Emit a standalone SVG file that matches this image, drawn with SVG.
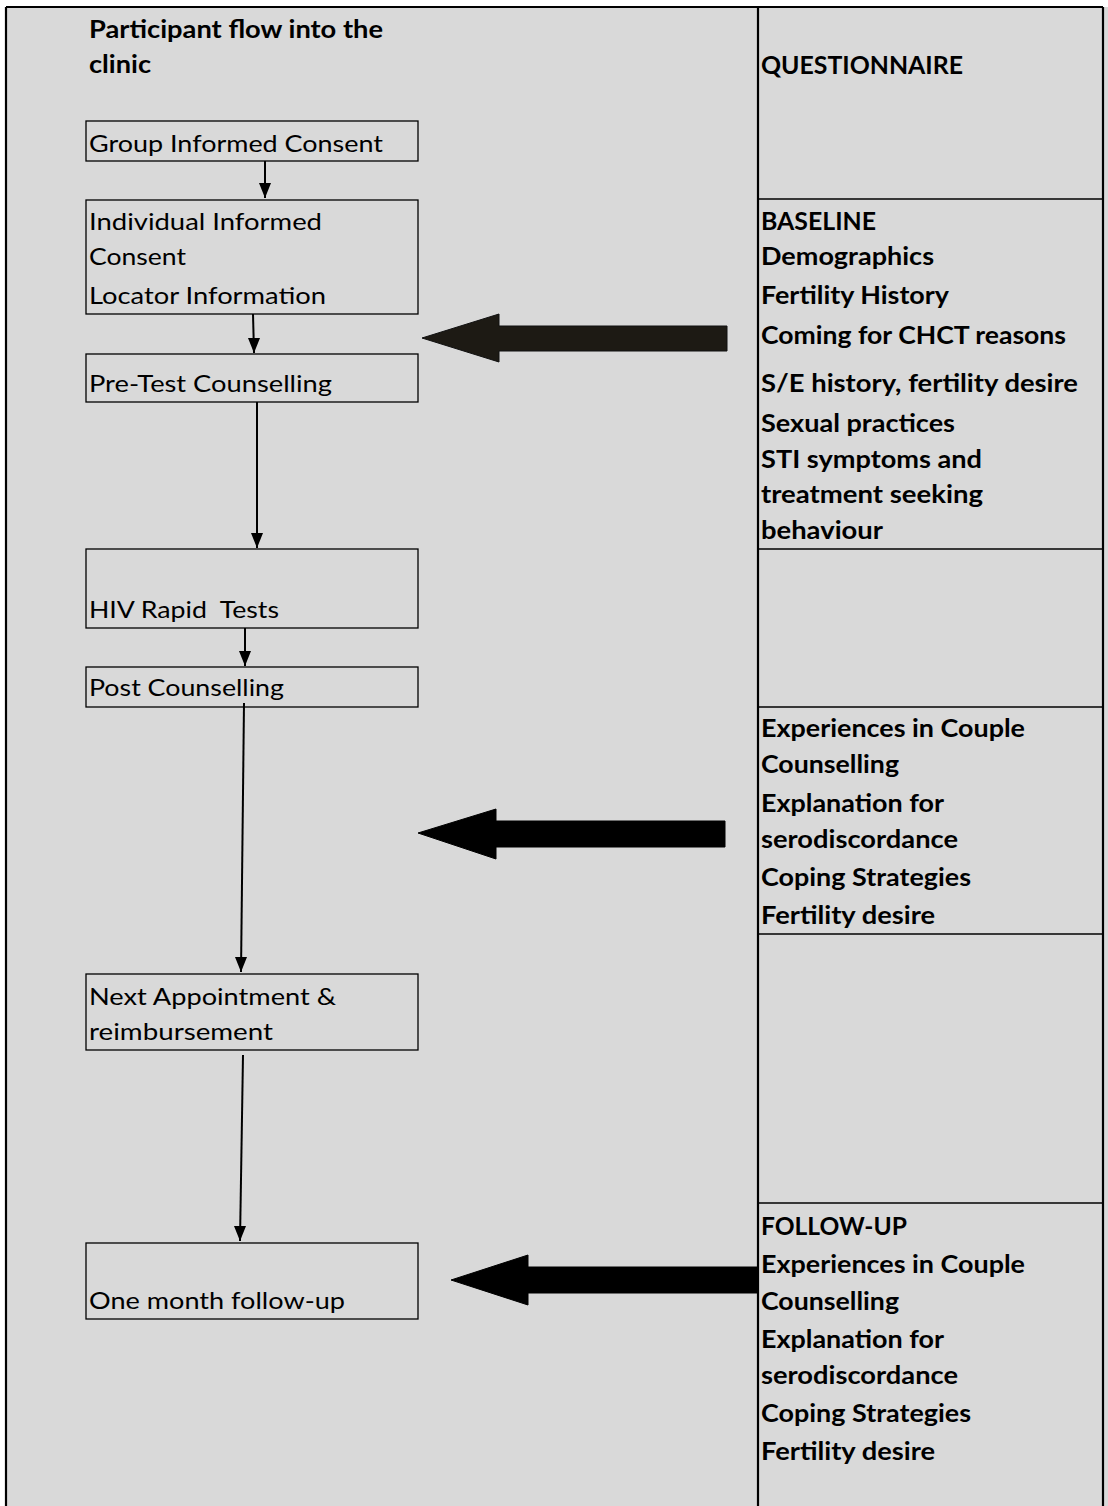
<svg xmlns="http://www.w3.org/2000/svg" width="1108" height="1506" viewBox="0 0 1108 1506">
  <style>
    .frame { fill: none; stroke: #000; stroke-width: 2.2; }
    .rule { stroke: #000; stroke-width: 1.6; }
    .box { fill: none; stroke: #000; stroke-width: 1.3; }
    .step { font-family: Lato, "Liberation Sans", sans-serif; font-size: 24px; fill: #000; }
    .head { font-family: Lato, "Liberation Sans", sans-serif; font-size: 24px; font-weight: bold; fill: #000; }
    .flow { stroke: #000; stroke-width: 2; fill: none; marker-end: url(#down); }
    .big { fill: #000; stroke: #000; stroke-width: 1; }
  </style>
  <defs>
    <marker id="down" viewBox="0 0 12 15" refX="6" refY="15" markerWidth="12" markerHeight="15" markerUnits="userSpaceOnUse" orient="0">
      <path d="M0,0 L12,0 L6,15 Z" fill="#000"/>
    </marker>
  </defs>

  <!-- page background and table frame -->
  <rect x="0" y="0" width="1108" height="1506" fill="#ffffff"/>
  <rect x="6" y="7" width="1102" height="1499" fill="#d9d9d9"/>
  <g id="table">
    <line class="frame" x1="6" y1="7" x2="1103" y2="7"/>
    <line class="frame" x1="6" y1="7" x2="6" y2="1506"/>
    <line class="frame" x1="1103" y1="7" x2="1103" y2="1506"/>
    <line class="frame" x1="758" y1="7" x2="758" y2="1506"/>
    <line class="rule" x1="758" y1="199" x2="1103" y2="199"/>
    <line class="rule" x1="758" y1="549" x2="1103" y2="549"/>
    <line class="rule" x1="758" y1="707" x2="1103" y2="707"/>
    <line class="rule" x1="758" y1="934" x2="1103" y2="934"/>
    <line class="rule" x1="758" y1="1203" x2="1103" y2="1203"/>
  </g>

  <!-- left column: participant flow -->
  <g id="flow-title">
    <text class="head" x="89" y="38" textLength="294" lengthAdjust="spacingAndGlyphs">Participant flow into the</text>
    <text class="head" x="89" y="73" textLength="62" lengthAdjust="spacingAndGlyphs">clinic</text>
  </g>

  <g id="group-consent">
    <rect class="box" x="86" y="121" width="332" height="40"/>
    <text class="step" x="89" y="152" textLength="294" lengthAdjust="spacingAndGlyphs">Group Informed Consent</text>
  </g>

  <g id="individual-consent">
    <rect class="box" x="86" y="200" width="332" height="114"/>
    <text class="step" x="89" y="230" textLength="233" lengthAdjust="spacingAndGlyphs">Individual Informed</text>
    <text class="step" x="89" y="265" textLength="97" lengthAdjust="spacingAndGlyphs">Consent</text>
    <text class="step" x="89" y="304" textLength="237" lengthAdjust="spacingAndGlyphs">Locator Information</text>
  </g>

  <g id="pretest">
    <rect class="box" x="86" y="354" width="332" height="48"/>
    <text class="step" x="89" y="392" textLength="243" lengthAdjust="spacingAndGlyphs">Pre-Test Counselling</text>
  </g>

  <g id="hiv-tests">
    <rect class="box" x="86" y="549" width="332" height="79"/>
    <text class="step" x="89" y="618" textLength="190" lengthAdjust="spacingAndGlyphs" xml:space="preserve">HIV Rapid  Tests</text>
  </g>

  <g id="post-counselling">
    <rect class="box" x="86" y="667" width="332" height="40"/>
    <text class="step" x="89" y="696" textLength="195" lengthAdjust="spacingAndGlyphs">Post Counselling</text>
  </g>

  <g id="next-appointment">
    <rect class="box" x="86" y="974" width="332" height="76"/>
    <text class="step" x="89" y="1005" textLength="247" lengthAdjust="spacingAndGlyphs">Next Appointment &amp;</text>
    <text class="step" x="89" y="1040" textLength="184" lengthAdjust="spacingAndGlyphs">reimbursement</text>
  </g>

  <g id="followup-visit">
    <rect class="box" x="86" y="1243" width="332" height="76"/>
    <text class="step" x="89" y="1309" textLength="256" lengthAdjust="spacingAndGlyphs">One month follow-up</text>
  </g>

  <!-- right column: questionnaire content -->
  <g id="questionnaire">
    <text class="head" x="761" y="74" textLength="202" lengthAdjust="spacingAndGlyphs">QUESTIONNAIRE</text>
  </g>

  <g id="baseline">
    <text class="head" x="761" y="230" textLength="115" lengthAdjust="spacingAndGlyphs">BASELINE</text>
    <text class="head" x="761" y="265" textLength="173" lengthAdjust="spacingAndGlyphs">Demographics</text>
    <text class="head" x="761" y="304" textLength="188" lengthAdjust="spacingAndGlyphs">Fertility History</text>
    <text class="head" x="761" y="344" textLength="305" lengthAdjust="spacingAndGlyphs">Coming for CHCT reasons</text>
    <text class="head" x="761" y="392" textLength="317" lengthAdjust="spacingAndGlyphs">S/E history, fertility desire</text>
    <text class="head" x="761" y="432" textLength="194" lengthAdjust="spacingAndGlyphs">Sexual practices</text>
    <text class="head" x="761" y="468" textLength="221" lengthAdjust="spacingAndGlyphs">STI symptoms and</text>
    <text class="head" x="761" y="503" textLength="222" lengthAdjust="spacingAndGlyphs">treatment seeking</text>
    <text class="head" x="761" y="539" textLength="122" lengthAdjust="spacingAndGlyphs">behaviour</text>
  </g>

  <g id="post-test-interview">
    <text class="head" x="761" y="737" textLength="264" lengthAdjust="spacingAndGlyphs">Experiences in Couple</text>
    <text class="head" x="761" y="773" textLength="138" lengthAdjust="spacingAndGlyphs">Counselling</text>
    <text class="head" x="761" y="812" textLength="183" lengthAdjust="spacingAndGlyphs">Explanation for</text>
    <text class="head" x="761" y="848" textLength="197" lengthAdjust="spacingAndGlyphs">serodiscordance</text>
    <text class="head" x="761" y="886" textLength="210" lengthAdjust="spacingAndGlyphs">Coping Strategies</text>
    <text class="head" x="761" y="924" textLength="174" lengthAdjust="spacingAndGlyphs">Fertility desire</text>
  </g>

  <g id="follow-up">
    <text class="head" x="761" y="1235" textLength="146" lengthAdjust="spacingAndGlyphs">FOLLOW-UP</text>
    <text class="head" x="761" y="1273" textLength="264" lengthAdjust="spacingAndGlyphs">Experiences in Couple</text>
    <text class="head" x="761" y="1310" textLength="138" lengthAdjust="spacingAndGlyphs">Counselling</text>
    <text class="head" x="761" y="1348" textLength="183" lengthAdjust="spacingAndGlyphs">Explanation for</text>
    <text class="head" x="761" y="1384" textLength="197" lengthAdjust="spacingAndGlyphs">serodiscordance</text>
    <text class="head" x="761" y="1422" textLength="210" lengthAdjust="spacingAndGlyphs">Coping Strategies</text>
    <text class="head" x="761" y="1460" textLength="174" lengthAdjust="spacingAndGlyphs">Fertility desire</text>
  </g>

  <!-- connectors -->
  <g id="connectors">
    <line class="flow" x1="265" y1="161" x2="265" y2="198"/>
    <line class="flow" x1="253" y1="314" x2="254" y2="353"/>
    <line class="flow" x1="257" y1="402" x2="257" y2="548"/>
    <line class="flow" x1="245" y1="628" x2="245" y2="666"/>
    <line class="flow" x1="244" y1="703" x2="241" y2="972"/>
    <line class="flow" x1="243" y1="1055" x2="240" y2="1241"/>

    <!-- block arrows from questionnaire to the flow -->
    <path class="big" style="fill:#1d1a14;stroke:#111" d="M422,338 L499,314 L499,326 L727,326 L727,351 L499,351 L499,362 Z"/>
    <path class="big" d="M418,833 L496,809 L496,821 L725,821 L725,847 L496,847 L496,859 Z"/>
    <path class="big" d="M451,1280 L528,1255 L528,1267 L758,1267 L758,1293 L528,1293 L528,1305 Z"/>
  </g>
</svg>
